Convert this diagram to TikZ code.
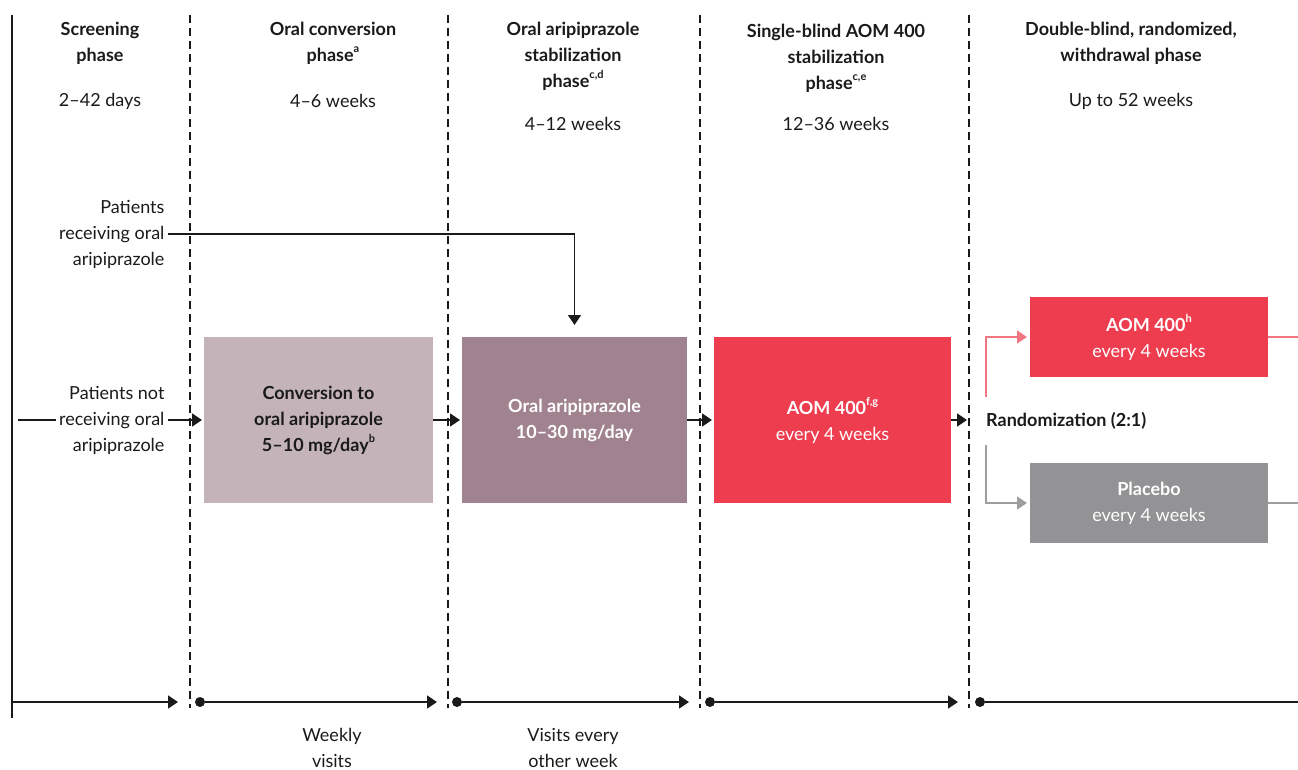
\documentclass[tikz,border=0pt]{standalone}
\usepackage{fontspec}
\setmainfont{Lato}
\usetikzlibrary{arrows.meta,positioning,calc}
\definecolor{malvaClaro}{RGB}{196,180,186}
\definecolor{malvaEscuro}{RGB}{161,131,143}
\definecolor{vermelhoAOM}{RGB}{238,61,79}
\definecolor{rosaLinha}{RGB}{240,118,130}
\definecolor{cinzaPlacebo}{RGB}{147,147,149}
\definecolor{cinzaLinha}{RGB}{158,158,160}
\definecolor{textoEscuro}{RGB}{26,26,26}
\newcommand{\corpo}{\fontsize{18}{26}\selectfont}
\newcommand{\nota}[1]{\raisebox{0.5em}{\fontsize{11}{11}\selectfont #1}}
\tikzset{
  fase/.style={align=center, font=\corpo\bfseries, text=textoEscuro},
  duracao/.style={align=center, font=\corpo, text=textoEscuro},
  rotulo/.style={align=right, font=\corpo, text=textoEscuro},
  bloco/.style={rectangle, inner sep=0pt, outer sep=0pt, align=center,
                minimum height=166pt},
  ramo/.style={rectangle, inner sep=0pt, outer sep=0pt, align=center,
               minimum width=238pt, minimum height=80pt, text=white, font=\corpo},
  seta/.style={-{Triangle[length=10pt,width=13pt]}, line width=1.5pt, textoEscuro},
  linha/.style={line width=1.5pt, textoEscuro},
  divisa/.style={line width=1.2pt, dash pattern=on 8pt off 5pt, textoEscuro},
  marco/.style={circle, fill=textoEscuro, inner sep=0pt, minimum size=10pt},
}

\begin{document}
\begin{tikzpicture}[x=1pt, y=-1pt, font=\corpo]
  \useasboundingbox (0,0) rectangle (1298,770);
  \coordinate (borda) at (1298,0);

  % column rules
  \draw[linha] (12,15) -- (12,718);
  \foreach \x in {190,448,700,969}
    \draw[divisa] (\x,15) -- (\x,708);

  % phase headers
  \node[fase] (f1) at (100,43) {Screening\\phase};
  \node[duracao] (d1) at (100,101) {2--42 days};
  \node[fase] (f2) at (333,43) {Oral conversion\\phase\nota{a}};
  \node[duracao] (d2) at (333,101) {4--6 weeks};
  \node[fase] (f3) at (573,56) {Oral aripiprazole\\stabilization\\phase\nota{c,d}};
  \node[duracao] (d3) at (573,124) {4--12 weeks};
  \node[fase] (f4) at (836,58) {Single-blind AOM 400\\stabilization\\phase\nota{c,e}};
  \node[duracao] (d4) at (836,124) {12--36 weeks};
  \node[fase] (f5) at (1131,43) {Double-blind, randomized,\\withdrawal phase};
  \node[duracao] (d5) at (1131,101) {Up to 52 weeks};

  % patient entry
  \node[rotulo, anchor=east] (recebe) at (168,234) {Patients\\receiving oral\\aripiprazole};
  \node[rotulo, anchor=east] (naoRecebe) at (168,420) {Patients not\\receiving oral\\aripiprazole};
  \coordinate (entrada) at (18,420);

  % treatment blocks
  \node[bloco, fill=malvaClaro, minimum width=229pt, font=\corpo\bfseries, text=textoEscuro]
        (conv) at (318.5,420) {Conversion to\\oral aripiprazole\\5--10 mg/day\nota{b}};
  \node[bloco, fill=malvaEscuro, minimum width=225pt, font=\corpo\bfseries, text=white]
        (oral) at (574.5,420) {Oral aripiprazole\\10--30 mg/day};
  \node[bloco, fill=vermelhoAOM, minimum width=237pt, font=\corpo, text=white]
        (aomEst) at (832.5,420) {{\bfseries AOM 400\nota{f,g}}\\every 4 weeks};
  \coordinate (fimEst) at (967,420);
  \node[anchor=west, inner sep=0pt, font=\corpo\bfseries, text=textoEscuro]
        (rand) at (986,421) {Randomization (2:1)};
  \node[ramo, fill=vermelhoAOM] (aom) at (1149,337) {{\bfseries AOM 400\nota{h}}\\every 4 weeks};
  \node[ramo, fill=cinzaPlacebo] (placebo) at (1149,503) {{\bfseries Placebo}\\every 4 weeks};

  % flow
  \draw[linha] (entrada) -- (naoRecebe.west);
  \draw[seta, shorten >=2pt] (naoRecebe.east) -- (conv.west);
  \draw[seta] (recebe.east) -| ([yshift=12pt]oral.north);
  \draw[seta, shorten >=2pt] (conv.east) -- (oral.west);
  \draw[seta, shorten >=2pt] (oral.east) -- (aomEst.west);
  \draw[seta] (aomEst.east) -- (fimEst);
  \draw[seta, rosaLinha, shorten >=3pt] ([yshift=24pt]rand.west) |- (aom.west);
  \draw[seta, cinzaLinha, shorten >=3pt] ([yshift=-24pt]rand.west) |- (placebo.west);
  \draw[linha, rosaLinha] (aom.east) -- (aom.east -| borda);
  \draw[linha, cinzaLinha] (placebo.east) -- (placebo.east -| borda);

  % visit timeline
  \coordinate (t0) at (12,702);
  \foreach \x [count=\i] in {200,457,710,980}
    \node[marco] (m\i) at (\x,702) {};
  \foreach \x [count=\i] in {178,437,689,958}
    \coordinate (a\i) at (\x,702);
  \draw[seta] (t0) -- (a1);
  \draw[seta] (m1) -- (a2);
  \draw[seta] (m2) -- (a3);
  \draw[seta] (m3) -- (a4);
  \draw[linha] (m4) -- (m4 -| borda);

  \node[duracao] (v1) at (332,748) {Weekly\\visits};
  \node[duracao] (v2) at (573,748) {Visits every\\other week};
\end{tikzpicture}
\end{document}
